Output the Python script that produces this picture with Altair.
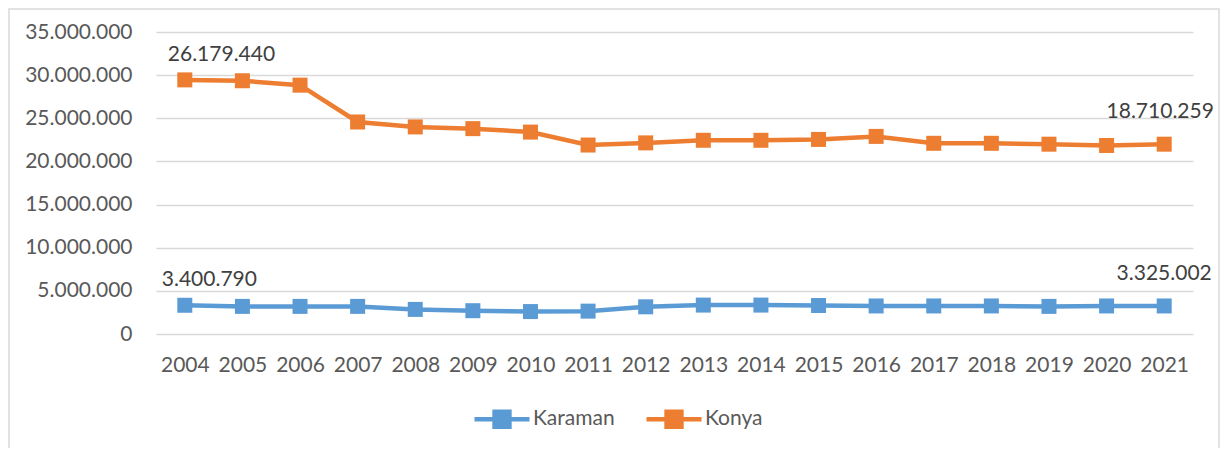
import altair as alt
import pandas as pd

years = [str(y) for y in range(2004, 2022)]
karaman = [3330000, 3200000, 3200000, 3200000, 2850000, 2700000, 2600000, 2650000, 3150000,
           3350000, 3350000, 3300000, 3250000, 3250000, 3250000, 3200000, 3250000, 3250000]
konya = [29450000, 29350000, 28840000, 24570000, 24000000, 23800000, 23400000, 21900000, 22150000,
         22450000, 22450000, 22550000, 22900000, 22100000, 22100000, 22000000, 21850000, 22000000]
series_names = ["Karaman", "Konya"]
series_colors = ["#5B9BD5", "#ED7D31"]

# data labels as printed on the chart
label_series = ["Konya", "Konya", "Karaman", "Karaman"]
label_years = ["2004", "2021", "2004", "2021"]
label_texts = ["26.179.440", "18.710.259", "3.400.790", "3.325.002"]

rows = []
for name, vals in zip(series_names, [karaman, konya]):
    for y, v in zip(years, vals):
        rows.append({"Yıl": y, "Seri": name, "Değer": v})
df = pd.DataFrame(rows)

lab_rows = []
for s, y, t in zip(label_series, label_years, label_texts):
    v = (konya if s == "Konya" else karaman)[years.index(y)]
    lab_rows.append({"Yıl": y, "Seri": s, "Değer": v, "Etiket": t})
ldf = pd.DataFrame(lab_rows)

FONT = "Lato"
TXT = "#595959"
FS = 21

x_enc = alt.X("Yıl:N", sort=years, title=None,
              axis=alt.Axis(labelAngle=0, ticks=False, domain=False, grid=False,
                            labelFontSize=FS, labelColor=TXT, labelFont=FONT, labelPadding=20))
y_enc = alt.Y("Değer:Q", title=None,
              scale=alt.Scale(domain=[0, 35000000], nice=False),
              axis=alt.Axis(values=list(range(0, 35000001, 5000000)), ticks=False, domain=False,
                            gridColor="#d9d9d9", gridWidth=1.3, labelFontSize=FS, labelColor=TXT,
                            labelFont=FONT, labelPadding=24,
                            labelExpr="replace(replace(format(datum.value, ','), ',', '.'), ',', '.')"))
color_enc = alt.Color("Seri:N", sort=series_names,
                      scale=alt.Scale(domain=series_names, range=series_colors),
                      legend=alt.Legend(title=None, orient="none", direction="horizontal",
                                        legendX=316, legendY=357,
                                        symbolType="M-1,0L1,0M-0.27,-0.27L0.27,-0.27L0.27,0.27L-0.27,0.27Z",
                                        symbolSize=3025, symbolStrokeWidth=4.5,
                                        labelFontSize=FS, labelFont=FONT, labelColor=TXT,
                                        labelOffset=1, columnPadding=22, padding=0))

base = alt.Chart(df)
lines = base.mark_line(strokeWidth=4.5, point=alt.OverlayMarkDef(shape="square", size=225, filled=True)).encode(
    x=x_enc, y=y_enc, color=color_enc)


def label_layer(idx, align, dx, dy):
    sub = ldf.iloc[[idx]]
    return alt.Chart(sub).mark_text(align=align, dx=dx, dy=dy, fontSize=FS, font=FONT,
                                    color="#404040").encode(
        x=alt.X("Yıl:N", sort=years), y=alt.Y("Değer:Q"), text="Etiket:N")


labels = [label_layer(0, "left", -17, -25), label_layer(1, "center", -4, -32),
          label_layer(2, "left", -23, -25), label_layer(3, "center", 0, -32)]

frame = alt.Chart(pd.DataFrame({"a": [0]})).mark_rect(fill="transparent", stroke="#d9d9d9",
                                                       strokeWidth=1.5).encode(
    x=alt.value(-147), x2=alt.value(1063), y=alt.value(-23), y2=alt.value(430))

chart = alt.layer(frame, lines, *labels).properties(
    width=1037, height=302,
    autosize=alt.AutoSizeParams(type="none"),
    padding={"left": 148, "top": 24, "right": 28, "bottom": 114},
).configure_view(strokeWidth=0)

chart.save("out.html", embed_options={"renderer": "svg", "actions": False})
